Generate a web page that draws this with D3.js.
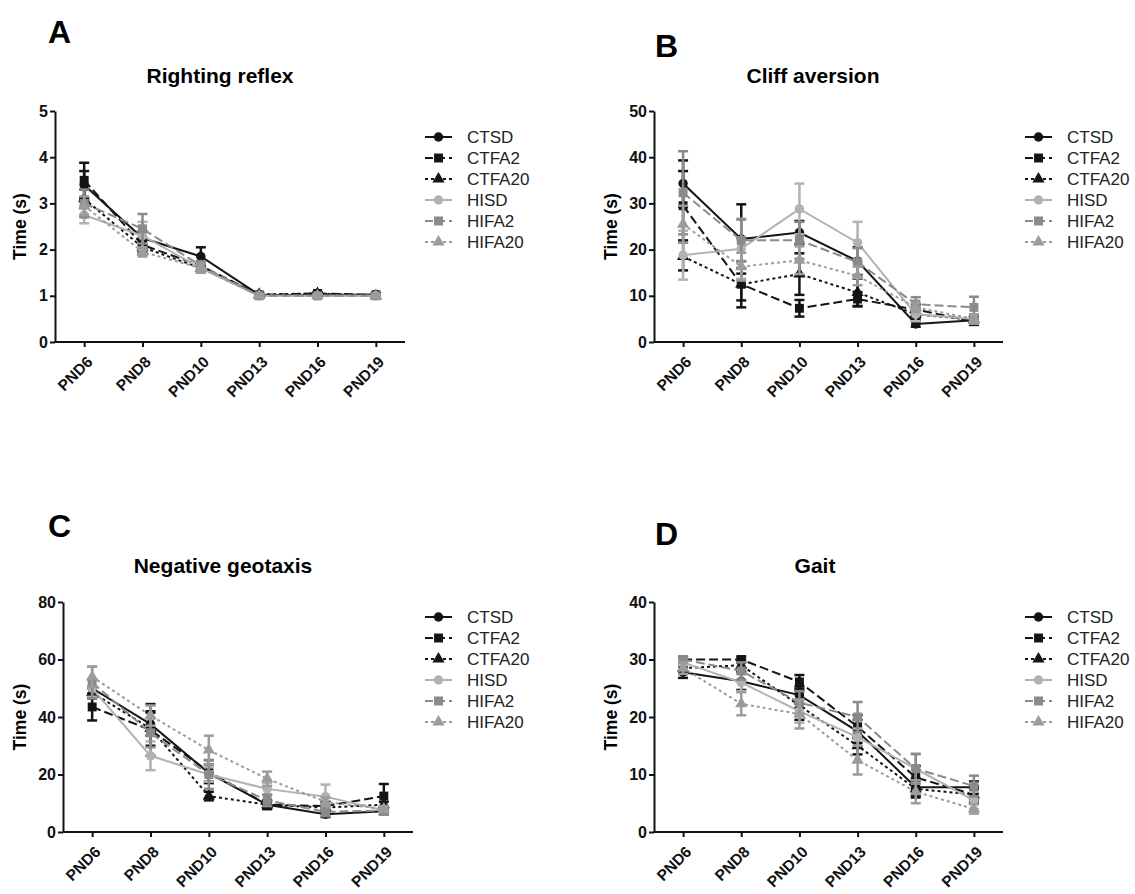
<!DOCTYPE html>
<html>
<head>
<meta charset="utf-8">
<script src="https://cdn.jsdelivr.net/npm/d3@7"></script>
<style>
  body { margin: 0; background: #fff; }
  text { font-family: "Liberation Sans", Arial, sans-serif; }
</style>
</head>
<body>
<svg id="fig" width="1135" height="894"></svg>
<script>
// days and groups
var days = ['PND6', 'PND8', 'PND10', 'PND13', 'PND16', 'PND19']
var groups = ['CTSD', 'CTFA2', 'CTFA20', 'HISD', 'HIFA2', 'HIFA20']

// A - Righting reflex (mean, sem) in group order
var rightingMean = [
  [3.4, 2.25, 1.85, 1.02, 1.02, 1.03],
  [3.5, 2.1, 1.65, 1.02, 1.05, 1.02],
  [3.1, 2.05, 1.6, 1.03, 1.05, 1.0],
  [2.75, 2.3, 1.6, 1.0, 1.0, 1.0],
  [3.0, 2.45, 1.65, 1.0, 1.0, 1.0],
  [2.95, 1.95, 1.6, 1.0, 1.0, 1.0]
]
var rightingErr = [
  [0.3, 0.15, 0.2, 0.03, 0.03, 0.03],
  [0.38, 0.15, 0.1, 0.03, 0.03, 0.03],
  [0.2, 0.15, 0.1, 0.03, 0.03, 0.03],
  [0.18, 0.3, 0.1, 0.03, 0.03, 0.03],
  [0.3, 0.32, 0.1, 0.03, 0.03, 0.03],
  [0.2, 0.1, 0.1, 0.03, 0.03, 0.03]
]

// B - Cliff aversion
var cliffMean = [
  [34.3, 22.3, 23.7, 17.5, 3.9, 4.7],
  [29.5, 12.5, 7.3, 9.3, 7.0, 4.5],
  [18.5, 12.5, 14.7, 10.7, 6.0, 4.8],
  [18.8, 20.2, 28.8, 21.5, 6.0, 5.0],
  [32.3, 22.0, 22.0, 17.3, 8.2, 7.5],
  [25.5, 16.3, 17.7, 14.3, 7.5, 5.0]
]
var cliffErr = [
  [5.0, 7.5, 2.5, 3.0, 0.6, 0.6],
  [7.5, 5.0, 1.8, 1.5, 1.2, 0.8],
  [3.0, 3.5, 4.5, 3.0, 1.0, 0.8],
  [5.3, 6.5, 5.5, 4.5, 1.5, 1.0],
  [9.0, 4.5, 4.0, 3.0, 1.5, 2.3],
  [4.0, 3.0, 3.0, 2.0, 1.0, 1.0]
]

// C - Negative geotaxis
var geotaxisMean = [
  [50.0, 37.5, 20.5, 9.5, 6.2, 7.2],
  [43.5, 35.5, 21.0, 9.5, 9.0, 12.5],
  [48.5, 36.0, 12.5, 9.5, 8.5, 9.5],
  [50.0, 26.5, 20.0, 15.0, 12.3, 7.5],
  [52.0, 34.5, 20.0, 11.0, 7.0, 7.5],
  [54.0, 40.5, 28.5, 18.5, 10.5, 8.0]
]
var geotaxisErr = [
  [3.0, 4.0, 3.0, 1.5, 1.0, 1.0],
  [4.7, 9.0, 4.0, 1.5, 1.5, 4.2],
  [2.0, 6.0, 1.5, 1.0, 1.0, 1.0],
  [3.0, 5.0, 2.5, 2.0, 4.2, 1.0],
  [5.5, 5.0, 5.0, 2.0, 1.5, 1.5],
  [3.5, 3.5, 5.0, 2.5, 1.5, 1.0]
]

// D - Gait
var gaitMean = [
  [27.8, 26.2, 23.8, 17.5, 7.8, 7.8],
  [30.0, 30.0, 26.1, 18.3, 9.5, 6.5],
  [28.5, 29.0, 22.0, 15.0, 7.5, 6.5],
  [29.5, 26.0, 21.0, 16.5, 11.0, 5.5],
  [30.0, 28.0, 22.5, 20.0, 11.0, 8.0],
  [28.5, 22.3, 20.5, 12.5, 7.0, 4.0]
]
var gaitErr = [
  [1.0, 1.5, 1.5, 2.0, 1.5, 1.0],
  [0.5, 0.5, 1.2, 2.0, 2.0, 1.0],
  [1.0, 1.0, 2.5, 1.5, 1.5, 1.5],
  [0.5, 1.5, 2.0, 1.5, 2.5, 1.5],
  [0.5, 1.5, 2.0, 2.6, 2.6, 1.8],
  [1.0, 2.0, 2.5, 2.5, 2.0, 0.8]
]

// styles per group
var colors = ['#141414', '#141414', '#141414', '#b2b2b2', '#8a8a8a', '#9c9c9c']
var dashes = [null, '9,4', '3,3', null, '9,4', '3,3']
var shapes = [d3.symbolCircle, d3.symbolSquare, d3.symbolTriangle,
              d3.symbolCircle, d3.symbolSquare, d3.symbolTriangle]
var sizes = [70, 80, 65, 70, 80, 65]

var svg = d3.select('#fig')

function panel(o) {
  var x = d3.scalePoint().domain(days).range([o.x0, o.x1]).padding(0.5)
  var y = d3.scaleLinear().domain([0, o.ymax]).range([o.yb, o.yt])
  var g = svg.append('g')

  // letter + title
  g.append('text').attr('x', o.lx).attr('y', o.ly)
    .style('font-size', '32px').style('font-weight', 'bold').text(o.letter)
  g.append('text').attr('x', o.tx).attr('y', o.ty)
    .attr('text-anchor', 'middle')
    .style('font-size', '21px').style('font-weight', 'bold').text(o.title)

  // y axis
  var yAxis = d3.axisLeft(y).ticks(o.nt).tickSize(5).tickSizeOuter(0).tickFormat(d3.format('d'))
  var ya = g.append('g').attr('transform', 'translate(' + o.x0 + ',0)').call(yAxis)
  ya.select('.domain').attr('stroke', '#111').attr('stroke-width', 2)
  ya.selectAll('.tick line').attr('stroke', '#111').attr('stroke-width', 2)
  ya.selectAll('.tick text').attr('x', -7)
    .style('font-size', '16px').style('font-weight', 'bold').attr('fill', '#111')

  // x axis
  var xAxis = d3.axisBottom(x).tickSize(5).tickSizeOuter(0)
  var xa = g.append('g').attr('transform', 'translate(0,' + o.yb + ')').call(xAxis)
  xa.select('.domain').attr('stroke', '#111').attr('stroke-width', 2)
    .attr('d', 'M' + o.x0 + ',0H' + o.x1)
  xa.selectAll('.tick line').attr('stroke', '#111').attr('stroke-width', 2)
  xa.selectAll('.tick text')
    .attr('x', 0).attr('y', 0).attr('dy', '0.35em')
    .attr('text-anchor', 'end')
    .attr('transform', 'translate(5,17) rotate(-45)')
    .style('font-size', '15.5px').style('font-weight', 'bold').attr('fill', '#111')

  // y label
  g.append('text')
    .attr('transform', 'translate(' + o.ylx + ',' + ((o.yb + o.yt) / 2) + ') rotate(-90)')
    .attr('text-anchor', 'middle')
    .style('font-size', '17.5px').style('font-weight', 'bold').text('Time (s)')

  var line = d3.line().x(function (d, i) { return x(days[i]) }).y(function (d) { return y(d) })

  groups.forEach(function (grp, k) {
    var s = g.append('g')
    s.append('path').datum(o.mean[k])
      .attr('d', line).attr('fill', 'none')
      .attr('stroke', colors[k]).attr('stroke-width', 2)
      .attr('stroke-dasharray', dashes[k])
    var bars = s.selectAll('.eb').data(o.mean[k]).enter().append('g')
    bars.append('line')
      .attr('x1', function (d, i) { return x(days[i]) })
      .attr('x2', function (d, i) { return x(days[i]) })
      .attr('y1', function (d, i) { return y(d - o.err[k][i]) })
      .attr('y2', function (d, i) { return y(d + o.err[k][i]) })
      .attr('stroke', colors[k]).attr('stroke-width', 2.5)
    ;[-1, 1].forEach(function (sg) {
      bars.append('line')
        .attr('x1', function (d, i) { return x(days[i]) - 5 })
        .attr('x2', function (d, i) { return x(days[i]) + 5 })
        .attr('y1', function (d, i) { return y(d + sg * o.err[k][i]) })
        .attr('y2', function (d, i) { return y(d + sg * o.err[k][i]) })
        .attr('stroke', colors[k]).attr('stroke-width', 2.5)
    })
    s.selectAll('.pt').data(o.mean[k]).enter().append('path')
      .attr('d', d3.symbol().type(shapes[k]).size(sizes[k]))
      .attr('transform', function (d, i) { return 'translate(' + x(days[i]) + ',' + y(d) + ')' })
      .attr('fill', colors[k])
  })

  // legend
  var lg = g.selectAll('.legend').data(groups).enter().append('g')
    .attr('transform', function (d, i) { return 'translate(' + o.legx + ',' + (o.legy + i * 21) + ')' })
  lg.append('line').attr('x1', 0).attr('x2', 27).attr('y1', 0).attr('y2', 0)
    .attr('stroke', function (d, i) { return colors[i] }).attr('stroke-width', 2)
    .attr('stroke-dasharray', function (d, i) { return dashes[i] ? (i % 3 == 1 ? '8,4' : '3,3') : null })
  lg.append('path')
    .attr('d', function (d, i) { return d3.symbol().type(shapes[i]).size(sizes[i])() })
    .attr('transform', 'translate(13.5,0)')
    .attr('fill', function (d, i) { return colors[i] })
  lg.append('text').attr('x', 42).attr('y', 0).attr('dy', '0.36em')
    .style('font-size', '17px').attr('fill', '#222').text(String)
}

panel({ letter: 'A', lx: 48, ly: 43, title: 'Righting reflex', tx: 220, ty: 83,
  x0: 55, x1: 405, yt: 111, yb: 342, ymax: 5, nt: 5, ylx: 26,
  mean: rightingMean, err: rightingErr, legx: 425, legy: 137 })
panel({ letter: 'B', lx: 655, ly: 57, title: 'Cliff aversion', tx: 813, ty: 83,
  x0: 654, x1: 1003, yt: 111, yb: 342, ymax: 50, nt: 5, ylx: 617,
  mean: cliffMean, err: cliffErr, legx: 1025, legy: 137 })
panel({ letter: 'C', lx: 48, ly: 537, title: 'Negative geotaxis', tx: 223, ty: 573,
  x0: 63, x1: 413, yt: 602, yb: 832, ymax: 80, nt: 4, ylx: 26,
  mean: geotaxisMean, err: geotaxisErr, legx: 425, legy: 617 })
panel({ letter: 'D', lx: 655, ly: 545, title: 'Gait', tx: 815, ty: 573,
  x0: 654, x1: 1003, yt: 602, yb: 832, ymax: 40, nt: 4, ylx: 617,
  mean: gaitMean, err: gaitErr, legx: 1025, legy: 617 })
</script>
</body>
</html>
